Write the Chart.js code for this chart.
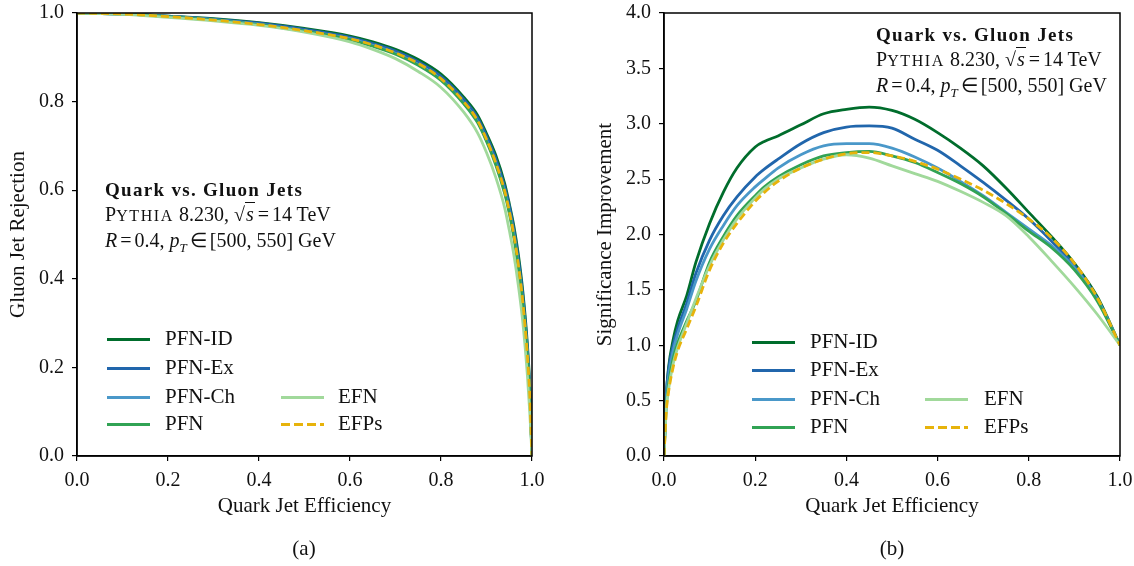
<!DOCTYPE html>
<html>
<head>
<meta charset="utf-8">
<script src="https://cdn.jsdelivr.net/npm/chart.js@4.4.1/dist/chart.umd.min.js"></script>
<style>
  body { margin: 0; background: #fff; width: 1134px; height: 566px; position: relative; overflow: hidden;
         font-family: "Liberation Serif", serif; color: #111; }
  .panel { position: absolute; top: 0; width: 567px; height: 566px; }
  .note { position: absolute; font-size: 20px; line-height: 24px; white-space: nowrap; }
  .note b { letter-spacing: 1.3px; font-size: 19px; }
  .sc { font-size: 0.8em; letter-spacing: 1.6px; }
  .rad { border-top: 1px solid #111; font-style: italic; padding: 0 1px; }
  .op { padding: 0 3px; }
  .leg { position: absolute; font-size: 21px; white-space: nowrap; }
  .sw { position: absolute; height: 3px; width: 43px; }
  .cap { position: absolute; top: 536px; font-size: 21px; transform: translateX(-50%); }
</style>
</head>
<body>
<div class="panel" style="left:0"><canvas id="roc" width="567" height="566"></canvas></div>
<div class="panel" style="left:567px"><canvas id="sic" width="567" height="566"></canvas></div>

<div class="note" style="left:105px; top:177px">
  <b>Quark vs. Gluon Jets</b><br>
  P<span class="sc">YTHIA</span> 8.230, √<span class="rad">s</span><span class="op">=</span>14 TeV<br>
  <i>R</i><span class="op">=</span>0.4, <i>p</i><sub style="font-size:13px"><i>T</i></sub><span class="op">∈</span>[500, 550] GeV
</div>
<div class="note" style="left:876px; top:22px">
  <b>Quark vs. Gluon Jets</b><br>
  P<span class="sc">YTHIA</span> 8.230, √<span class="rad">s</span><span class="op">=</span>14 TeV<br>
  <i>R</i><span class="op">=</span>0.4, <i>p</i><sub style="font-size:13px"><i>T</i></sub><span class="op">∈</span>[500, 550] GeV
</div>

<div id="legends"></div>

<div class="cap" style="left:304px">(a)</div>
<div class="cap" style="left:892px">(b)</div>

<script>
// ROC: gluon jet rejection vs quark jet efficiency
const rocEff    = [0, 0.1, 0.2, 0.3, 0.4, 0.5, 0.6, 0.65, 0.7, 0.75, 0.8, 0.85, 0.88, 0.9, 0.92, 0.94, 0.95, 0.96, 0.97, 0.98, 0.99, 0.995, 1.0];
const rocPfnId  = [1.0, 0.998, 0.993, 0.987, 0.978, 0.965, 0.948, 0.935, 0.918, 0.895, 0.862, 0.81, 0.77, 0.728, 0.68, 0.615, 0.57, 0.52, 0.455, 0.37, 0.25, 0.16, 0.0];
const rocPfnEx  = [1.0, 0.998, 0.993, 0.986, 0.977, 0.963, 0.945, 0.931, 0.914, 0.89, 0.857, 0.805, 0.764, 0.722, 0.672, 0.607, 0.565, 0.512, 0.445, 0.36, 0.24, 0.15, 0.0];
const rocPfnCh  = [1.0, 0.998, 0.992, 0.985, 0.975, 0.96, 0.942, 0.927, 0.909, 0.884, 0.85, 0.797, 0.756, 0.713, 0.662, 0.597, 0.553, 0.5, 0.432, 0.345, 0.225, 0.14, 0.0];
const rocPfn    = [1.0, 0.998, 0.992, 0.984, 0.974, 0.959, 0.94, 0.925, 0.907, 0.882, 0.848, 0.795, 0.753, 0.71, 0.658, 0.592, 0.548, 0.494, 0.425, 0.34, 0.22, 0.135, 0.0];
const rocEfn    = [1.0, 0.997, 0.99, 0.982, 0.972, 0.957, 0.935, 0.918, 0.897, 0.868, 0.832, 0.776, 0.73, 0.685, 0.63, 0.56, 0.51, 0.455, 0.385, 0.3, 0.18, 0.1, 0.0];
const rocEfps   = [1.0, 0.998, 0.992, 0.984, 0.974, 0.96, 0.942, 0.928, 0.91, 0.886, 0.852, 0.8, 0.758, 0.715, 0.663, 0.598, 0.553, 0.5, 0.432, 0.345, 0.225, 0.14, 0.0];

// Significance improvement vs quark jet efficiency
const siEff     = [0, 0.005, 0.01, 0.02, 0.03, 0.05, 0.07, 0.1, 0.13, 0.16, 0.2, 0.22, 0.25, 0.3, 0.35, 0.4, 0.45, 0.5, 0.55, 0.6, 0.65, 0.7, 0.75, 0.8, 0.85, 0.9, 0.95, 1.0];
const siPfnId   = [0, 0.55, 0.8, 1.05, 1.22, 1.45, 1.75, 2.1, 2.38, 2.6, 2.79, 2.84, 2.89, 2.99, 3.09, 3.13, 3.15, 3.12, 3.04, 2.92, 2.78, 2.62, 2.42, 2.2, 1.98, 1.74, 1.44, 1.0];
const siPfnEx   = [0, 0.55, 0.78, 1.0, 1.15, 1.38, 1.65, 1.95, 2.17, 2.34, 2.52, 2.59, 2.68, 2.82, 2.92, 2.97, 2.98, 2.96, 2.86, 2.76, 2.62, 2.47, 2.31, 2.14, 1.94, 1.72, 1.42, 1.0];
const siPfnCh   = [0, 0.5, 0.72, 0.95, 1.1, 1.33, 1.58, 1.87, 2.08, 2.26, 2.43, 2.5, 2.6, 2.72, 2.8, 2.82, 2.82, 2.78, 2.7, 2.6, 2.48, 2.35, 2.2, 2.05, 1.9, 1.7, 1.42, 1.0];
const siPfn     = [0, 0.45, 0.65, 0.88, 1.02, 1.22, 1.4, 1.75, 1.98, 2.17, 2.35, 2.43, 2.52, 2.63, 2.71, 2.74, 2.75, 2.71, 2.65, 2.56, 2.46, 2.34, 2.19, 2.03, 1.88, 1.68, 1.4, 1.0];
const siEfn     = [0, 0.42, 0.6, 0.83, 0.98, 1.2, 1.42, 1.72, 1.95, 2.14, 2.33, 2.41, 2.5, 2.6, 2.68, 2.72, 2.69, 2.62, 2.55, 2.48, 2.39, 2.29, 2.17, 1.98, 1.76, 1.53, 1.28, 1.0];
const siEfps    = [0, 0.4, 0.58, 0.8, 0.95, 1.15, 1.35, 1.68, 1.92, 2.1, 2.3, 2.38, 2.48, 2.6, 2.68, 2.73, 2.74, 2.71, 2.66, 2.59, 2.5, 2.4, 2.28, 2.14, 1.97, 1.74, 1.43, 1.0];

const modelNames = ['PFN-ID', 'PFN-Ex', 'PFN-Ch', 'PFN', 'EFN', 'EFPs'];
const modelColors = ['#006d2c', '#2166ac', '#4a98c9', '#31a354', '#a1d99b', '#e7b30b'];

Chart.defaults.font.family = "'Liberation Serif', serif";
Chart.defaults.color = '#111';

const pts = (xs, ys) => xs.map((x, i) => ({ x, y: ys[i] }));

function makeSets(xs, series) {
  return series.map((ys, i) => ({
    label: modelNames[i],
    data: pts(xs, ys),
    borderColor: modelColors[i],
    backgroundColor: modelColors[i],
    borderWidth: 2.8,
    borderDash: i === 5 ? [8, 4] : [],
    pointRadius: 0,
    cubicInterpolationMode: 'monotone',
    order: 6 - i,
  }));
}

/* black box round the plot, like matplotlib spines */
const frame = {
  id: 'frame',
  afterDatasetsDraw(chart) {
    const { ctx, chartArea: a } = chart;
    ctx.save();
    ctx.strokeStyle = '#000';
    ctx.lineWidth = 1.5;
    ctx.strokeRect(a.left, a.top, a.right - a.left, a.bottom - a.top);
    ctx.restore();
  },
};

function axis(min, max, step, title, extra) {
  return Object.assign({
    type: 'linear', min, max,
    ticks: { stepSize: step, font: { size: 20 }, padding: 8, color: '#111',
             callback: v => v.toFixed(1) },
    grid: { drawOnChartArea: false, drawTicks: true, tickLength: 5, color: '#000', lineWidth: 1.2 },
    border: { display: true, color: '#000', width: 1.5 },
    title: { display: true, text: title, font: { size: 21 }, color: '#111' },
  }, extra);
}

function makeChart(id, xs, series, yMax, yStep, yTitle, yWidth, yTitlePad, padRight) {
  return new Chart(document.getElementById(id), {
    type: 'line',
    data: { datasets: makeSets(xs, series) },
    options: {
      responsive: false, animation: false,
      layout: { padding: { left: 0, right: padRight, top: 13, bottom: 41 } },
      plugins: { legend: { display: false }, tooltip: { enabled: false } },
      scales: {
        x: axis(0, 1, 0.2, 'Quark Jet Efficiency', {
          afterFit: s => { s.height = 69; s.paddingLeft = 0; s.paddingRight = 0; },
        }),
        y: axis(0, yMax, yStep, yTitle, {
          afterFit: s => { s.width = yWidth; s.paddingTop = 0; s.paddingBottom = 0; },
        }),
      },
    },
    plugins: [frame],
  });
}

const rocChart = makeChart('roc', rocEff, [rocPfnId, rocPfnEx, rocPfnCh, rocPfn, rocEfn, rocEfps],
  1, 0.2, 'Gluon Jet Rejection', 77, 6, 35);
rocChart.options.scales.x.title.padding = { top: 0, bottom: 6 };
rocChart.options.scales.y.title.padding = { top: 6, bottom: 0 };
rocChart.update();

const sicChart = makeChart('sic', siEff, [siPfnId, siPfnEx, siPfnCh, siPfn, siEfn, siEfps],
  4, 0.5, 'Significance Improvement', 97, 26, 14);
sicChart.options.scales.x.title.padding = { top: 0, bottom: 6 };
sicChart.options.scales.y.title.padding = { top: 26, bottom: 0 };
sicChart.update();

/* legends: two columns, second column only in rows 3 and 4 */
function legend(col1Swatch, col1Text, col2Swatch, col2Text, rows) {
  const box = document.getElementById('legends');
  modelNames.forEach((name, i) => {
    const second = i >= 4;
    const row = second ? rows[i - 2] : rows[i];
    const sx = second ? col2Swatch : col1Swatch;
    const tx = second ? col2Text : col1Text;
    const sw = document.createElement('div');
    sw.className = 'sw';
    sw.style.left = sx + 'px';
    sw.style.top = (row - 1.5) + 'px';
    sw.style.background = i === 5
      ? `repeating-linear-gradient(90deg, ${modelColors[i]} 0 9px, transparent 9px 13px)`
      : modelColors[i];
    box.appendChild(sw);
    const t = document.createElement('div');
    t.className = 'leg';
    t.textContent = name;
    t.style.left = tx + 'px';
    t.style.top = (row - 13) + 'px';
    box.appendChild(t);
  });
}
legend(107, 165, 281, 338, [339, 368, 397, 424]);
legend(752, 810, 925, 984, [342, 370, 399, 427]);
</script>
</body>
</html>
